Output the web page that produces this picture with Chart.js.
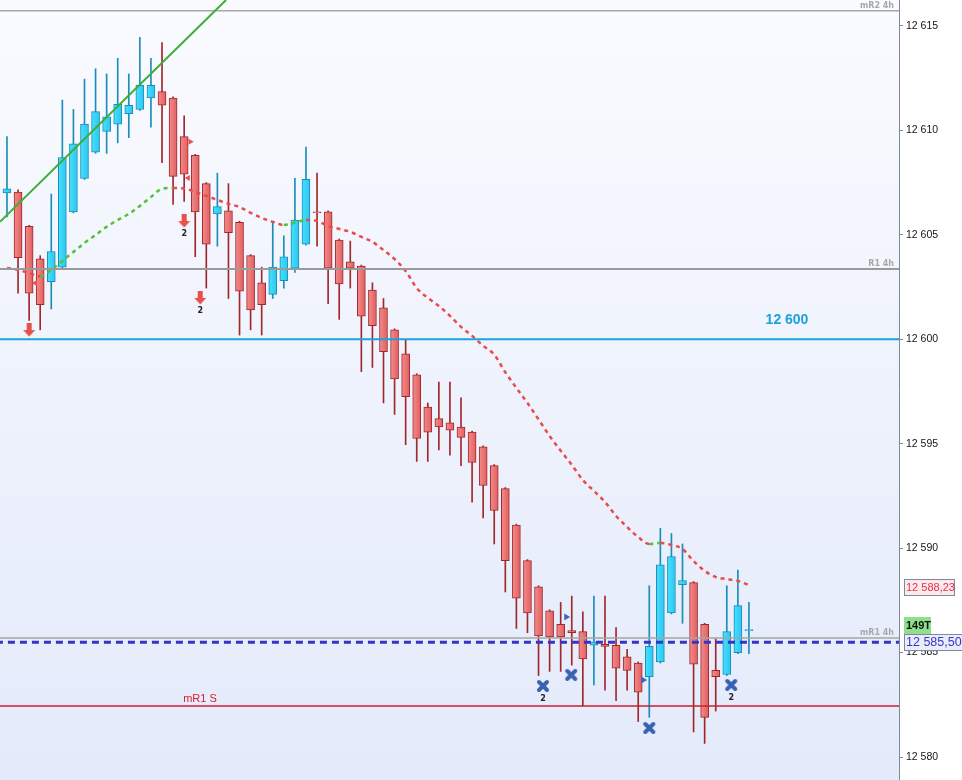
<!DOCTYPE html>
<html>
<head>
<meta charset="utf-8">
<title>Candles 4h</title>
<script src="https://cdn.jsdelivr.net/npm/chart.js@4.4.1/dist/chart.umd.min.js"></script>
<style>
  html, body { margin: 0; padding: 0; background: #fff; }
  #chart { display: block; }
</style>
</head>
<body>
<canvas id="chart" width="962" height="780"></canvas>
<script>
// OHLC, one entry per candle (index = bar number)
const candleOpen = [
  12607.0, 12607.05, 12605.4, 12603.85, 12602.75, 12603.45, 12606.1, 12607.7, 12608.95, 12609.95,
  12610.3, 12610.8, 12611.0, 12611.55, 12611.85, 12611.55, 12609.7, 12608.8, 12607.45, 12606.0,
  12606.15, 12605.6, 12604.0, 12602.7, 12602.15, 12602.8, 12603.4, 12604.55, 12606.1, 12606.1,
  12604.75, 12603.7, 12603.5, 12602.35, 12601.5, 12600.45, 12599.3, 12598.3, 12596.75, 12596.2,
  12596.0, 12595.8, 12595.55, 12594.85, 12593.95, 12592.85, 12591.1, 12589.4, 12588.15, 12587.0,
  12586.35, 12586.05, 12586.0, 12585.35, 12585.4, 12585.35, 12584.8, 12584.5, 12583.85, 12584.55,
  12586.9, 12588.25, 12588.35, 12586.35, 12584.15, 12583.95, 12585.0, 12586.05
];
const candleHigh = [
  12609.7, 12607.15, 12605.45, 12604.0, 12606.95, 12611.45, 12611.0, 12612.45, 12612.95, 12612.7,
  12613.45, 12612.7, 12614.45, 12613.45, 12614.2, 12611.6, 12610.7, 12608.85, 12607.5, 12607.95,
  12607.45, 12605.65, 12604.05, 12603.45, 12605.55, 12604.95, 12607.7, 12609.2, 12607.95, 12606.15,
  12604.8, 12604.7, 12603.55, 12602.7, 12601.95, 12600.5, 12599.95, 12598.35, 12596.95, 12597.95,
  12597.95, 12597.2, 12595.6, 12594.9, 12594.0, 12592.9, 12591.15, 12589.45, 12588.2, 12587.05,
  12587.4, 12587.7, 12586.95, 12587.7, 12587.7, 12586.2, 12585.15, 12584.55, 12588.2, 12590.95,
  12590.7, 12590.2, 12588.4, 12586.4, 12585.65, 12588.2, 12588.95, 12587.4
];
const candleLow = [
  12605.85, 12602.2, 12600.9, 12600.45, 12601.45, 12603.4, 12606.05, 12607.65, 12608.9, 12608.9,
  12609.4, 12609.65, 12610.95, 12610.15, 12608.45, 12606.45, 12606.6, 12603.95, 12602.45, 12604.45,
  12601.95, 12600.2, 12600.45, 12600.2, 12601.95, 12602.45, 12603.2, 12604.5, 12604.45, 12601.7,
  12600.95, 12602.45, 12598.45, 12598.65, 12596.95, 12596.4, 12594.95, 12594.15, 12594.15, 12594.7,
  12594.45, 12593.95, 12592.2, 12591.45, 12590.2, 12587.9, 12586.15, 12585.95, 12583.9, 12584.1,
  12584.1, 12584.4, 12582.45, 12583.45, 12583.2, 12582.7, 12583.2, 12581.7, 12581.9, 12584.5,
  12586.85, 12586.4, 12581.2, 12580.65, 12582.2, 12583.9, 12584.95, 12584.95
];
const candleClose = [
  12607.2, 12603.9, 12602.2, 12601.65, 12604.2, 12608.7, 12609.35, 12610.3, 12610.9, 12610.65,
  12611.25, 12611.2, 12612.15, 12612.15, 12611.2, 12607.8, 12607.9, 12606.1, 12604.55, 12606.35,
  12605.1, 12602.3, 12601.4, 12601.65, 12603.45, 12603.95, 12605.7, 12607.65, 12606.05, 12603.4,
  12602.65, 12603.4, 12601.1, 12600.65, 12599.4, 12598.1, 12597.25, 12595.25, 12595.55, 12595.8,
  12595.65, 12595.3, 12594.1, 12593.0, 12591.8, 12589.4, 12587.6, 12586.9, 12585.8, 12585.75,
  12585.75, 12585.95, 12584.7, 12585.5, 12585.3, 12584.25, 12584.15, 12583.1, 12585.3, 12589.2,
  12589.6, 12588.45, 12584.45, 12581.9, 12583.85, 12586.0, 12587.25, 12586.1
];

// moving average (dashed, red falling / green rising)
const maValues = [
  12603.41, 12603.32, 12603.17, 12603.02, 12603.32, 12603.75, 12604.18, 12604.61, 12604.99, 12605.38,
  12605.71, 12606.00, 12606.38, 12606.81, 12607.20, 12607.24, 12607.22, 12607.05, 12606.86, 12606.67,
  12606.48, 12606.33, 12606.05, 12605.81, 12605.62, 12605.47, 12605.57, 12605.71, 12605.66, 12605.42,
  12605.28, 12605.14, 12604.90, 12604.66, 12604.27, 12603.84, 12603.27, 12602.45, 12601.98, 12601.59,
  12601.12, 12600.59, 12600.16, 12599.69, 12599.26, 12598.42, 12597.67, 12596.95, 12596.16, 12595.37,
  12594.66, 12593.99, 12593.26, 12592.74, 12592.21, 12591.54, 12591.01, 12590.53, 12590.20, 12590.25,
  12590.15, 12589.96, 12589.38, 12588.91, 12588.62, 12588.52, 12588.43, 12588.23
];

// horizontal levels
const levelValues = [12615.72, 12603.36, 12600, 12585.70, 12585.50, 12582.44];
const levelNames = ['mR2 4h', 'R1 4h', '12 600', 'mR1 4h', '', 'mR1 S'];

// trend line end points (bar index, price)
const trendX = [-0.63, 19.78];
const trendY = [12605.62, 12616.24];

// signal markers
const arrowX = [2, 16, 17.45];
const arrowY = [12600.44, 12605.66, 12601.98];
const arrowNotes = ['', '2', '2'];
const crossX = [48.4, 50.95, 58, 65.4];
const crossY = [12583.40, 12583.93, 12581.39, 12583.45];
const crossNotes = ['2', '', '', '2'];
const blueFlagX = [50.5, 57.45];
const blueFlagY = [12586.70, 12583.69];
const redFlagX = [2.55, 16.35, 16.55];
const redFlagY = [12602.69, 12607.72, 12609.45];
const redFlagDir = [270, 270, 90];

const yTicks = [12580, 12585, 12590, 12595, 12600, 12605, 12610, 12615];
const tickCountLabel = '149T';

const X_MIN = -0.63, X_MAX = 80.55;
const Y_MIN = 12578.9, Y_MAX = 12616.24;

const BULL_FILL = ['#46e0ff', '#2cc6ef'], BULL_LINE = '#1b8db9';
const BEAR_FILL = ['#f38c8c', '#e25e5e'], BEAR_LINE = '#a0282c';

const isBull = candleOpen.map((o, i) => candleClose[i] >= o);

function spaced(v) {
  return String(v).replace(/\B(?=(\d{3})+(?!\d))/g, ' ');
}
function priceText(v) {
  const parts = v.toFixed(2).split('.');
  return spaced(parts[0]) + ',' + parts[1];
}

// left-to-right shading of a candle body
function bodyFill(c) {
  const stops = isBull[c.dataIndex] ? BULL_FILL : BEAR_FILL;
  const xs = c.chart.scales.x;
  if (!xs || !c.chart.chartArea) return stops[1];
  const px = xs.getPixelForValue(c.dataIndex);
  const g = c.chart.ctx.createLinearGradient(px - 4, 0, px + 4, 0);
  g.addColorStop(0, stops[0]);
  g.addColorStop(1, stops[1]);
  return g;
}

function makeDownArrow() {
  const c = document.createElement('canvas');
  c.width = 13; c.height = 14;
  const g = c.getContext('2d');
  g.fillStyle = '#e8504c';
  g.fillRect(4, 0, 5, 8);
  g.beginPath();
  g.moveTo(0.5, 7); g.lineTo(12.5, 7); g.lineTo(6.5, 13.5);
  g.closePath();
  g.fill();
  return c;
}
function makeCross() {
  const c = document.createElement('canvas');
  c.width = 14; c.height = 14;
  const g = c.getContext('2d');
  g.strokeStyle = '#3a62b2';
  g.lineWidth = 4;
  g.lineCap = 'round';
  g.beginPath();
  g.moveTo(3, 3); g.lineTo(11, 11);
  g.moveTo(11, 3); g.lineTo(3, 11);
  g.stroke();
  return c;
}

const levelStyles = [
  { color: '#a6a6a6', width: 1.5 },
  { color: '#9a9a9a', width: 2 },
  { color: '#1ca2dc', width: 2 },
  { color: '#a4a4a4', width: 1.5 },
  { color: '#3434c6', width: 3, dash: [7, 5] },
  { color: '#c9202a', width: 1.5 }
];

const levelDatasets = levelValues.map((v, k) => ({
  type: 'line',
  data: [{ x: X_MIN - 1, y: v }, { x: X_MAX + 1, y: v }],
  borderColor: levelStyles[k].color,
  borderWidth: levelStyles[k].width,
  borderDash: levelStyles[k].dash || [],
  borderDashOffset: levelStyles[k].dash ? 5 : 0,
  pointRadius: 0,
  order: 5
}));

const backdrop = {
  id: 'backdrop',
  beforeDraw(chart) {
    const { ctx, chartArea: a, width, height } = chart;
    ctx.save();
    ctx.fillStyle = '#ffffff';
    ctx.fillRect(0, 0, width, height);
    const g = ctx.createLinearGradient(0, a.top, 0, a.bottom);
    g.addColorStop(0, '#fafbff');
    g.addColorStop(1, '#e3eafa');
    ctx.fillStyle = g;
    ctx.fillRect(a.left, a.top, a.right - a.left, a.bottom - a.top);
    ctx.restore();
  }
};

const overlay = {
  id: 'overlay',
  afterDatasetsDraw(chart) {
    const { ctx, chartArea: a, scales: { y } } = chart;
    ctx.save();
    ctx.textBaseline = 'alphabetic';
    levelNames.forEach((name, k) => {
      if (!name) return;
      const py = y.getPixelForValue(levelValues[k]);
      if (name === '12 600') {
        ctx.font = 'bold 14px "Liberation Sans", Arial, sans-serif';
        ctx.fillStyle = '#1ca2dc';
        ctx.textAlign = 'center';
        ctx.fillText(name, 787, py - 15);
      } else if (name === 'mR1 S') {
        ctx.font = '11px "Liberation Sans", Arial, sans-serif';
        ctx.fillStyle = '#d8202c';
        ctx.textAlign = 'center';
        ctx.fillText(name, 200, py - 4);
      } else {
        ctx.font = 'bold 8px "DejaVu Sans", sans-serif';
        ctx.fillStyle = '#a8a8a8';
        ctx.textAlign = 'right';
        ctx.fillText(name, a.right - 5, py - 3);
      }
    });

    // small counters under some markers
    ctx.font = 'bold 8px "DejaVu Sans", sans-serif';
    ctx.fillStyle = '#222';
    ctx.textAlign = 'center';
    chart.data.datasets.forEach((ds, di) => {
      if (!ds.notes) return;
      chart.getDatasetMeta(di).data.forEach((pt, j) => {
        if (ds.notes[j]) ctx.fillText(ds.notes[j], pt.x, pt.y + 15);
      });
    });
    ctx.restore();
  },
  afterDraw(chart) {
    const { ctx, chartArea: a, scales: { y } } = chart;
    const x0 = a.right + 5;
    ctx.save();
    ctx.textBaseline = 'middle';
    ctx.textAlign = 'left';

    // MA value tag
    const maLast = maValues[maValues.length - 1];
    let py = Math.round(y.getPixelForValue(maLast)) + 2;
    ctx.fillStyle = '#fbe9ef';
    ctx.fillRect(x0, py - 8, 51, 17);
    ctx.strokeStyle = '#7d8a98';
    ctx.lineWidth = 1;
    ctx.strokeRect(x0 + 0.5, py - 7.5, 50, 16);
    ctx.font = '11px "Liberation Sans", Arial, sans-serif';
    ctx.fillStyle = '#e8323c';
    ctx.fillText(priceText(maLast), x0 + 2, py + 1);

    // last price tag + tick counter
    py = Math.round(y.getPixelForValue(levelValues[4]));
    ctx.fillStyle = '#8fe08c';
    ctx.fillRect(x0, py - 25, 27, 17);
    ctx.font = 'bold 11px "Liberation Sans", Arial, sans-serif';
    ctx.fillStyle = '#111';
    ctx.fillText(tickCountLabel, x0 + 2, py - 16);

    ctx.fillStyle = '#e8ecfb';
    ctx.fillRect(x0, py - 8, 60, 17);
    ctx.strokeStyle = '#7d8a98';
    ctx.strokeRect(x0 + 0.5, py - 7.5, 60, 16);
    ctx.font = '12.5px "Liberation Sans", Arial, sans-serif';
    ctx.fillStyle = '#3636c4';
    ctx.fillText(priceText(levelValues[4]), x0 + 2, py + 1);
    ctx.restore();
  }
};

new Chart(document.getElementById('chart'), {
  type: 'bar',
  data: {
    datasets: [
      {
        label: 'wicks',
        data: candleLow.map((l, i) => ({ x: i, y: [l, candleHigh[i]] })),
        backgroundColor: isBull.map(b => b ? BULL_LINE : BEAR_LINE),
        barThickness: 1,
        grouped: false,
        order: 10
      },
      {
        label: 'bodies',
        data: candleOpen.map((o, i) => ({ x: i, y: [o, candleClose[i]] })),
        backgroundColor: bodyFill,
        borderColor: isBull.map(b => b ? BULL_LINE : BEAR_LINE),
        borderWidth: 1,
        borderSkipped: false,
        barThickness: 8,
        grouped: false,
        order: 9
      },
      {
        type: 'line',
        label: 'MA',
        data: maValues.map((v, i) => ({ x: i, y: v })),
        borderWidth: 2.5,
        borderDash: [4, 4],
        borderColor: '#ea4a4a',
        segment: {
          borderColor: c => c.p1.parsed.y > c.p0.parsed.y ? '#52c234' : '#ea4a4a'
        },
        cubicInterpolationMode: 'monotone',
        pointRadius: 0,
        order: 8
      },
      ...levelDatasets,
      {
        type: 'line',
        label: 'trend',
        data: trendX.map((x, k) => ({ x, y: trendY[k] })),
        borderColor: '#3cae34',
        borderWidth: 2,
        pointRadius: 0,
        order: 4
      },
      {
        type: 'line',
        label: 'arrows',
        data: arrowX.map((x, k) => ({ x, y: arrowY[k] })),
        notes: arrowNotes,
        showLine: false,
        pointStyle: makeDownArrow(),
        order: 1
      },
      {
        type: 'line',
        label: 'crosses',
        data: crossX.map((x, k) => ({ x, y: crossY[k] })),
        notes: crossNotes,
        showLine: false,
        pointStyle: makeCross(),
        order: 1
      },
      {
        type: 'line',
        label: 'blue flags',
        data: blueFlagX.map((x, k) => ({ x, y: blueFlagY[k] })),
        showLine: false,
        pointStyle: 'triangle',
        rotation: 90,
        pointRadius: 4,
        backgroundColor: '#3b66c8',
        borderColor: '#3b66c8',
        borderWidth: 0,
        order: 1
      },
      {
        type: 'line',
        label: 'red flags',
        data: redFlagX.map((x, k) => ({ x, y: redFlagY[k] })),
        showLine: false,
        pointStyle: 'triangle',
        rotation: redFlagDir,
        pointRadius: 3.5,
        backgroundColor: '#e65252',
        borderColor: '#e65252',
        borderWidth: 0,
        order: 1
      }
    ]
  },
  options: {
    responsive: false,
    animation: false,
    devicePixelRatio: 1,
    layout: { padding: 0, autoPadding: false },
    plugins: {
      legend: { display: false },
      tooltip: { enabled: false }
    },
    scales: {
      x: {
        type: 'linear',
        min: X_MIN,
        max: X_MAX,
        offset: false,
        display: false
      },
      y: {
        position: 'right',
        min: Y_MIN,
        max: Y_MAX,
        beginAtZero: false,
        afterBuildTicks: s => { s.ticks = yTicks.map(v => ({ value: v })); },
        afterFit: s => { s.width = 63; s.paddingTop = 0; s.paddingBottom = 0; },
        grid: { drawOnChartArea: false, tickLength: 4, color: '#7d8a98' },
        border: { color: '#7d8a98', width: 1 },
        ticks: {
          padding: 3,
          color: '#151515',
          font: { family: '"Liberation Sans", Arial, sans-serif', size: 10.5 },
          callback: v => spaced(v)
        }
      }
    }
  },
  plugins: [backdrop, overlay]
});
</script>
</body>
</html>
